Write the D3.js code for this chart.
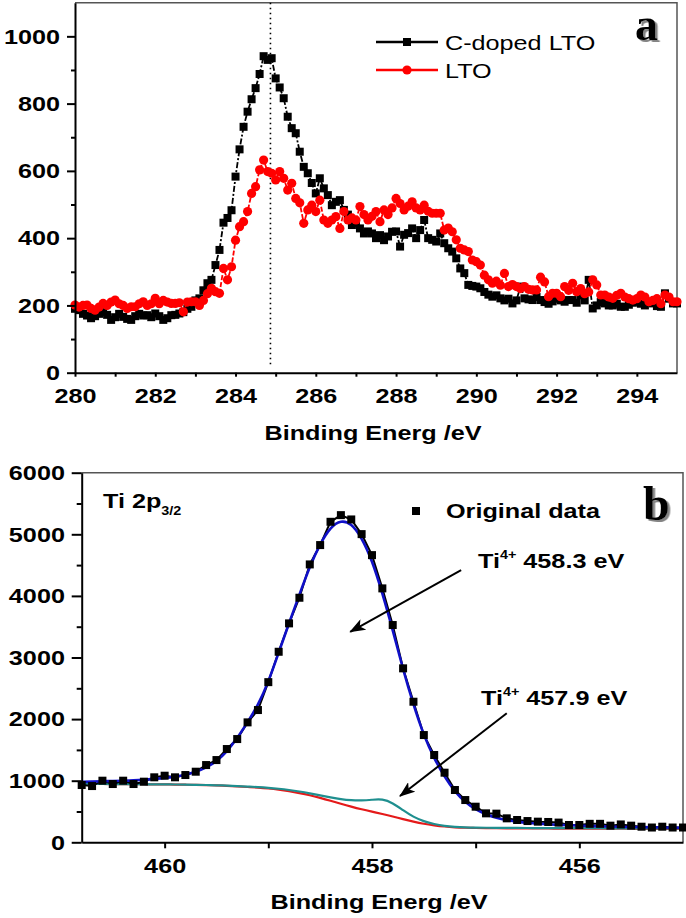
<!DOCTYPE html>
<html><head><meta charset="utf-8">
<script src="https://cdn.jsdelivr.net/npm/d3@7"></script>
<style>body{margin:0;background:#fff}svg{display:block}</style>
</head><body>
<svg id="chart" width="686" height="918"></svg>
<script>
// ---------- Panel a data (C 1s), 0.1 eV grid from 280.0 to 295.0 ----------
const energyA = d3.range(0, 151).map(i => +(280 + i * 0.1).toFixed(1));
const cDopedLTO = [
  190,186,175,170,162,168,175,180,172,157,
  165,175,166,160,157,168,175,170,171,165,
  176,168,157,162,171,172,176,180,190,196,
  215,221,245,266,276,320,365,446,460,483,
  583,664,731,776,813,846,888,941,930,935,
  875,848,816,761,727,712,657,612,593,564,
  533,578,548,528,498,508,513,484,470,439,
  445,429,414,420,414,400,409,394,405,419,
  420,375,410,415,429,400,424,454,400,395,
  390,414,385,370,360,340,310,296,261,258,
  256,251,240,232,226,230,221,215,220,206,
  215,256,221,218,216,225,216,210,205,212,
  220,215,211,216,216,208,230,215,276,191,
  200,210,206,200,200,205,196,196,202,208,
  211,205,200,210,206,198,196,236,220,206,
  206
];
const pristineLTO = [
  201,195,200,201,191,186,195,206,200,210,
  216,205,200,191,196,196,205,211,200,205,
  221,205,215,210,206,206,208,181,210,211,
  211,200,215,235,251,241,236,310,276,315,
  394,434,449,479,533,553,603,632,598,593,
  573,598,578,543,563,518,505,444,484,498,
  479,513,454,444,454,464,429,479,454,460,
  454,494,470,454,465,479,449,484,470,490,
  518,503,484,495,508,490,484,498,480,474,
  474,474,424,430,419,395,370,365,360,335,
  330,320,290,276,266,272,260,295,256,262,
  256,250,256,248,246,246,284,270,226,236,
  236,226,256,245,266,241,250,235,240,276,
  261,231,231,225,221,230,236,225,220,216,
  220,231,225,211,215,220,205,231,225,211,
  211
];
const seriesNamesA = ["C-doped LTO", "LTO"];
const peakLineA = 284.87;
const xTicksA = [280,281,282,283,284,285,286,287,288,289,290,291,292,293,294];
const yTicksA = [0,200,400,600,800,1000];
const yMinorA = [100,300,500,700,900];

// ---------- Panel b data (Ti 2p3/2), 0.1 eV grid from 460.8 down to 455.0 ----------
const energyB = d3.range(0, 59).map(i => +(460.8 - i * 0.1).toFixed(1));
const originalData = [
  930,913,1000,946,1000,946,984,1055,1081,1055,
  1092,1146,1254,1335,1514,1676,1947,2147,2600,3093,
  3554,3970,4511,4825,5203,5311,5241,5003,4662,4122,
  3527,2824,2282,1741,1417,1130,849,686,578,470,
  465,389,362,345,335,330,320,281,281,300,
  300,270,290,270,253,240,253,240,240
];
const fitEnvelope = [
  980,985,990,995,1000,1005,1015,1030,1045,1065,
  1095,1140,1210,1310,1470,1690,1950,2220,2600,3080,
  3560,4020,4480,4850,5120,5230,5180,4950,4580,4050,
  3450,2800,2230,1730,1360,1060,820,650,530,450,
  395,360,335,315,302,292,283,276,270,265,
  260,256,252,249,246,243,241,239,237
];
const backgroundCurve = [
  950,948,946,945,944,943,942,941,940,938,
  935,932,928,923,916,908,898,888,874,855,
  830,800,765,722,675,625,578,535,497,460,
  420,375,335,300,275,255,243,236,232,230,
  228,227,226,225,224,224,223,223,222,222,
  221,221,220,220,219,219,218,218,218
];
const componentCurve = [
  950,948,946,945,944,943,942,941,940,938,
  936,933,930,926,920,913,905,896,885,870,
  850,825,795,762,730,700,682,678,690,705,
  640,520,410,340,295,265,250,242,238,236,
  235,234,233,232,231,230,230,229,229,228,
  228,227,227,226,226,225,225,225,224
];
const xTicksB = [460,459,458,457,456];
const yTicksB = [0,1000,2000,3000,4000,5000,6000];
const yMinorB = [500,1500,2500,3500,4500,5500];
// annotation arrows [fromE, fromV, toE, toV]
const arrowsB = [[457.14,4419,458.21,3418],[456.70,2094,457.73,751]];

// ---------- drawing ----------
const svg = d3.select("#chart");
svg.append("rect").attr("width",686).attr("height",918).attr("fill","#fff");
const SANS = "'Liberation Sans', Arial, sans-serif";
const SERIF = "'Liberation Serif', 'Times New Roman', serif";
const SX = 1.2;

function txt(g, x, y, anchor, size, weight, family) {
  return g.append("text")
    .attr("transform", `translate(${x},${y}) scale(${SX},1)`)
    .attr("text-anchor", anchor)
    .attr("font-family", family || SANS)
    .attr("font-size", size)
    .attr("font-weight", weight || "bold")
    .attr("fill", "#000");
}
function styleAxis(g, sw) {
  g.select(".domain").attr("stroke","#000").attr("stroke-width", sw || 2);
  g.selectAll(".tick line").attr("stroke","#000").attr("stroke-width", 2);
  g.selectAll(".tick text")
    .attr("font-family", SANS).attr("font-size", 21).attr("font-weight","bold")
    .attr("fill","#000").attr("transform", `scale(${SX},1)`);
}
const fmt = d3.format("d");

const defs = svg.append("defs");
defs.append("marker")
  .attr("id","arrowHead").attr("markerUnits","userSpaceOnUse")
  .attr("viewBox","0 0 16 12").attr("refX",15).attr("refY",6)
  .attr("markerWidth",16).attr("markerHeight",12).attr("orient","auto")
  .append("path").attr("d","M0,0 L16,6 L0,12 L4,6 Z").attr("fill","#000");
defs.append("filter").attr("id","shadow").attr("x","-20%").attr("y","-20%").attr("width","150%").attr("height","150%")
  .append("feDropShadow").attr("dx",2.5).attr("dy",2).attr("stdDeviation",0.6)
  .attr("flood-color","#777").attr("flood-opacity",0.9);

// ===== Panel a =====
const xA = d3.scaleLinear().domain([280,295]).range([75,677]);
const yA = d3.scaleLinear().domain([0,1100]).range([372.7,2.7]);
const gA = svg.append("g");

gA.append("path").attr("d",`M${xA(280)},${yA(1100)}H${xA(295)}V${yA(0)}`)
  .attr("fill","none").attr("stroke","#555").attr("stroke-width",1.5);

gA.append("line").attr("x1",xA(peakLineA)).attr("x2",xA(peakLineA))
  .attr("y1",yA(1100)).attr("y2",yA(22))
  .attr("stroke","#000").attr("stroke-width",1.6).attr("stroke-dasharray","1.6,3.4");

const ptsBlack = energyA.map((e,i)=>[e,cDopedLTO[i]]);
const ptsRed = energyA.map((e,i)=>[e,pristineLTO[i]]);
const lineA = d3.line().x(d=>xA(d[0])).y(d=>yA(d[1]));

gA.append("path").datum(ptsBlack).attr("d",lineA).attr("fill","none")
  .attr("stroke","#000").attr("stroke-width",1.8).attr("stroke-dasharray","6,2,2,2");
gA.selectAll("rect.sq").data(ptsBlack).join("rect").attr("class","sq")
  .attr("x",d=>xA(d[0])-4).attr("y",d=>yA(d[1])-4).attr("width",8).attr("height",8).attr("fill","#000");

gA.append("path").datum(ptsRed).attr("d",lineA).attr("fill","none")
  .attr("stroke","#f00").attr("stroke-width",1.8).attr("stroke-dasharray","5,2");
gA.selectAll("circle.ci").data(ptsRed).join("circle").attr("class","ci")
  .attr("cx",d=>xA(d[0])).attr("cy",d=>yA(d[1])).attr("r",4.6).attr("fill","#f00");

const axAL = gA.append("g").attr("transform",`translate(${xA(280)},0)`)
  .call(d3.axisLeft(yA).tickValues(yTicksA).tickSize(8).tickPadding(4.5).tickSizeOuter(0).tickFormat(fmt));
styleAxis(axAL);
gA.append("g").attr("transform",`translate(${xA(280)},0)`)
  .call(d3.axisLeft(yA).tickValues(yMinorA).tickSize(4).tickFormat("").tickSizeOuter(0))
  .call(g=>{g.select(".domain").remove(); g.selectAll("line").attr("stroke","#000").attr("stroke-width",2);});
const axAB = gA.append("g").attr("transform",`translate(0,${yA(0)})`)
  .call(d3.axisBottom(xA).tickValues(xTicksA).tickSize(4).tickPadding(11).tickSizeOuter(0)
    .tickFormat(d => d % 2 === 0 ? fmt(d) : ""));
styleAxis(axAB);

txt(gA, 373, 440, "middle", 21, "bold").text("Binding Energ /eV");

const legA = gA.append("g");
[[42,"#000","sq"],[70,"#f00","ci"]].forEach(([y,c,m],i)=>{
  legA.append("line").attr("x1",376).attr("x2",438).attr("y1",y).attr("y2",y)
    .attr("stroke",c).attr("stroke-width",2.4);
  if (m==="sq") legA.append("rect").attr("x",403).attr("y",y-4).attr("width",8).attr("height",8).attr("fill",c);
  else legA.append("circle").attr("cx",407).attr("cy",y).attr("r",4.6).attr("fill",c);
  txt(legA, 445, y+8, "start", 21, "normal").text(seriesNamesA[i]);
});

svg.append("text").attr("x",635).attr("y",40).attr("font-family",SERIF).attr("font-size",46)
  .attr("font-weight","bold").attr("fill","#000").attr("filter","url(#shadow)").text("a");

// ===== Panel b =====
const xB = d3.scaleLinear().domain([460.8,455]).range([81.7,683]);
const yB = d3.scaleLinear().domain([0,6000]).range([842.3,472.7]);
const gB = svg.append("g");

gB.append("path").attr("d",`M${xB(460.8)},${yB(6000)}H${xB(455)}V${yB(0)}`)
  .attr("fill","none").attr("stroke","#555").attr("stroke-width",1.5);

const smooth = d3.line().x(d=>xB(d[0])).y(d=>yB(d[1])).curve(d3.curveBasis);
const straight = d3.line().x(d=>xB(d[0])).y(d=>yB(d[1]));
const mk = arr => energyB.map((e,i)=>[e,arr[i]]);

gB.append("path").datum(mk(backgroundCurve)).attr("d",smooth).attr("fill","none")
  .attr("stroke","#e41a1a").attr("stroke-width",2.2);
gB.append("path").datum(mk(componentCurve)).attr("d",smooth).attr("fill","none")
  .attr("stroke","#1f8f8f").attr("stroke-width",2.2);
gB.append("path").datum(mk(originalData)).attr("d",straight).attr("fill","none")
  .attr("stroke","#000").attr("stroke-width",2);
gB.append("path").datum(mk(fitEnvelope)).attr("d",smooth).attr("fill","none")
  .attr("stroke","#1010c8").attr("stroke-width",2.6);
gB.selectAll("rect.sq").data(mk(originalData)).join("rect").attr("class","sq")
  .attr("x",d=>xB(d[0])-4).attr("y",d=>yB(d[1])-4).attr("width",8).attr("height",8).attr("fill","#000");

const axBL = gB.append("g").attr("transform",`translate(${xB(460.8)},0)`)
  .call(d3.axisLeft(yB).tickValues(yTicksB).tickSize(10).tickPadding(4).tickSizeOuter(0).tickFormat(fmt));
styleAxis(axBL);
gB.append("g").attr("transform",`translate(${xB(460.8)},0)`)
  .call(d3.axisLeft(yB).tickValues(yMinorB).tickSize(5).tickFormat("").tickSizeOuter(0))
  .call(g=>{g.select(".domain").remove(); g.selectAll("line").attr("stroke","#000").attr("stroke-width",2);});
const axBB = gB.append("g").attr("transform",`translate(0,${yB(0)})`)
  .call(d3.axisBottom(xB).tickValues(xTicksB).tickSize(6).tickPadding(10).tickSizeOuter(0)
    .tickFormat(d => d % 2 === 0 ? fmt(d) : ""));
styleAxis(axBB);

txt(gB, 379, 909, "middle", 21, "bold").text("Binding Energ /eV");

arrowsB.forEach(a=>{
  gB.append("line").attr("x1",xB(a[0])).attr("y1",yB(a[1])).attr("x2",xB(a[2])).attr("y2",yB(a[3]))
    .attr("stroke","#000").attr("stroke-width",2).attr("marker-end","url(#arrowHead)");
});

const t1 = txt(gB, 478, 568, "start", 21, "bold");
t1.append("tspan").text("Ti");
t1.append("tspan").attr("font-size",12).attr("dy",-9).text("4+");
t1.append("tspan").attr("dy",9).text(" 458.3 eV");
const t2 = txt(gB, 481, 705, "start", 21, "bold");
t2.append("tspan").text("Ti");
t2.append("tspan").attr("font-size",12).attr("dy",-9).text("4+");
t2.append("tspan").attr("dy",9).text(" 457.9 eV");
const t3 = txt(gB, 103, 508, "start", 21, "bold");
t3.append("tspan").text("Ti 2p");
t3.append("tspan").attr("font-size",12).attr("dy",7).text("3/2");

gB.append("rect").attr("x",412).attr("y",507).attr("width",8).attr("height",8).attr("fill","#000");
txt(gB, 446, 518, "start", 21, "bold").text("Original data");

svg.append("text").attr("x",643).attr("y",520).attr("font-family",SERIF).attr("font-size",48)
  .attr("font-weight","bold").attr("fill","#000").attr("filter","url(#shadow)").text("b");
</script>
</body></html>
